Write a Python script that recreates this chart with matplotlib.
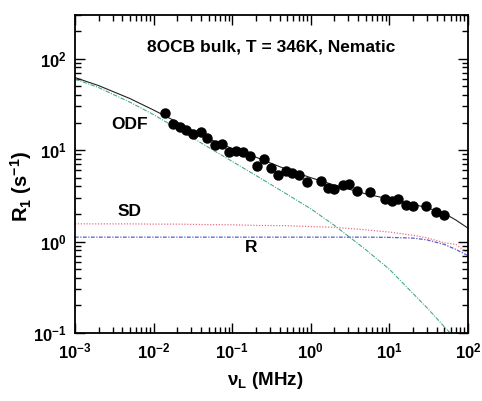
import numpy as np
import matplotlib
matplotlib.use("Agg")
import matplotlib.pyplot as plt
from matplotlib.ticker import FuncFormatter, LogLocator, NullFormatter

plt.rcParams['font.family'] = ['Liberation Sans', 'DejaVu Sans']
plt.rcParams['mathtext.fontset'] = 'custom'
plt.rcParams['mathtext.rm'] = 'Liberation Sans:bold'
plt.rcParams['mathtext.bf'] = 'Liberation Sans:bold'
plt.rcParams['mathtext.it'] = 'Liberation Sans:bold'

# measured data (nu in MHz, R1 in s^-1)
nu_data = [0.01387, 0.01766, 0.02148, 0.02612, 0.0317, 0.0397, 0.0483, 0.0598,
           0.0748, 0.0899, 0.1104, 0.1368, 0.1663, 0.208, 0.252, 0.313, 0.388,
           0.477, 0.579, 0.716, 0.887, 1.352, 1.637, 1.993, 2.54, 3.09, 3.82,
           5.66, 8.85, 10.76, 13.0, 16.2, 20.0, 29.6, 39.6, 49.6]
r1_data = [25.5, 19.5, 17.9, 16.4, 15.1, 15.8, 13.6, 11.5, 11.7, 9.44, 9.68,
           9.44, 8.68, 6.63, 7.99, 6.37, 5.38, 5.95, 5.61, 5.38, 4.51, 4.54,
           3.85, 3.75, 4.18, 4.29, 3.59, 3.44, 2.91, 2.81, 2.91, 2.52, 2.42,
           2.42, 2.13, 1.96]

# model curves
nu_curve = [1e-3, 2e-3, 5e-3, 1e-2, 2e-2, 5e-2, 0.1, 0.2, 0.5, 1, 2, 5, 10,
            20, 30, 50, 70, 100]
r1_total = [62.1, 50.7, 36.6, 27.4, 20.2, 13.3, 10.4, 8.36, 6.11, 4.99, 4.14,
            3.32, 2.91, 2.56, 2.34, 2.03, 1.72, 1.40]
r1_odf = [59.8, 48.2, 33.4, 24.4, 17.2, 10.7, 7.52, 5.28, 3.28, 2.28, 1.50,
          0.815, 0.497, 0.270, 0.189, 0.117, 0.086, 0.062]
r1_sd = [1.563, 1.56, 1.56, 1.55, 1.55, 1.53, 1.525, 1.50, 1.49, 1.457, 1.431,
         1.343, 1.27, 1.17, 1.098, 0.969, 0.93, 0.745]
r1_r = [1.117, 1.117, 1.117, 1.117, 1.117, 1.117, 1.117, 1.117, 1.117, 1.117,
        1.117, 1.117, 1.11, 1.09, 1.044, 0.93, 0.82, 0.70]

fig = plt.figure(figsize=(4.82, 4.01), dpi=100)
ax = fig.add_axes([0.1556, 0.1696, 0.8154, 0.793])

ax.plot(nu_curve, r1_odf, color='#4aa890', lw=0.8, ls=(0, (4, 1.2, 1, 1.2)))
ax.plot(nu_curve, r1_sd, color='#e8708a', lw=0.9, ls=(0, (1, 1.3)))
ax.plot(nu_curve, r1_r, color='#5a5ad0', lw=0.9, ls=(0, (3, 1.2, 1, 1.2)))
ax.plot(nu_curve, r1_total, color='#222222', lw=0.8, ls='-')
ax.plot(nu_data, r1_data, 'o', color='black', ms=6.5, zorder=5)

ax.set_xscale('log')
ax.set_yscale('log')
ax.set_xlim(1e-3, 1e2)
ax.set_ylim(0.1, 300)

fmt = FuncFormatter(lambda v, p: r'$\mathbf{10^{%d}}$' % int(round(np.log10(v))))
ax.xaxis.set_major_locator(LogLocator(base=10, numticks=10))
ax.yaxis.set_major_locator(LogLocator(base=10, numticks=10))
ax.xaxis.set_minor_locator(LogLocator(base=10, subs=np.arange(2, 10), numticks=20))
ax.yaxis.set_minor_locator(LogLocator(base=10, subs=np.arange(2, 10), numticks=20))
ax.xaxis.set_major_formatter(fmt)
ax.yaxis.set_major_formatter(fmt)
ax.xaxis.set_minor_formatter(NullFormatter())
ax.yaxis.set_minor_formatter(NullFormatter())

ax.tick_params(which='both', direction='in', top=True, right=True, width=1.0)
ax.tick_params(which='major', length=7, labelsize=12, pad=6)
ax.tick_params(which='minor', length=4)
for s in ax.spines.values():
    s.set_linewidth(1.3)

ax.set_xlabel(r'$\mathbf{\nu_L}$ (MHz)', fontsize=13.5, fontweight='bold')
ax.xaxis.set_label_coords(0.485, -0.115)
ax.set_ylabel(r'$\mathbf{R_1}$ (s$\mathbf{^{-1}}$)', fontsize=14.5, fontweight='bold')
ax.yaxis.set_label_coords(-0.105, 0.46)

ax.text(0.5, 0.9, '8OCB bulk, T = 346K, Nematic', transform=ax.transAxes,
        ha='center', va='center', fontsize=12.5, fontweight='bold')
ax.text(0.005, 19.0, 'ODF', ha='center', va='center', fontsize=12.5, fontweight='bold')
ax.text(0.005, 2.11, 'SD', ha='center', va='center', fontsize=12.5, fontweight='bold')
ax.text(0.176, 0.85, 'R', ha='center', va='center', fontsize=12.5, fontweight='bold')

fig.savefig('out.png', dpi=100)
